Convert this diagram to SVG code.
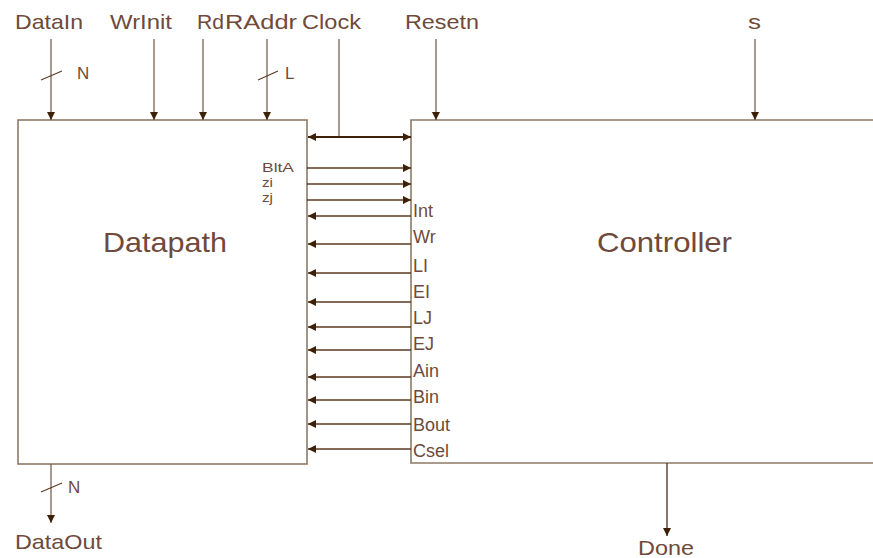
<svg xmlns="http://www.w3.org/2000/svg" width="873" height="558" viewBox="0 0 873 558">
<defs>
<marker id="ah" markerUnits="userSpaceOnUse" markerWidth="9" markerHeight="8" refX="8" refY="4" orient="auto-start-reverse" viewBox="0 0 9 8">
<path d="M0,0 L8,4 L0,8 z" fill="#3e2008"/>
</marker>
<style>
.box{fill:#fff;stroke:#8d7a66;stroke-width:1.6}
.lbl{font-family:"Liberation Sans",Arial,sans-serif;fill:#6f4a3b}
.io{font-size:21px}
.sig{font-size:18px}
.sm{font-size:13.4px}
.big{font-size:28px}
.w{font-size:17px}
.in{stroke:#6e5644;stroke-width:1.2;fill:none;marker-end:url(#ah)}
.s{stroke:#5b3a22;stroke-width:1.4;fill:none;marker-end:url(#ah)}
.sl{stroke:#5b3a22;stroke-width:1.1}
</style>
</defs>

<g id="datapath">
<rect class="box" x="18" y="120" width="289" height="344"/>
<text class="lbl big" x="103" y="252" textLength="124" lengthAdjust="spacingAndGlyphs">Datapath</text>
<text class="lbl sm" x="262" y="172" textLength="32" lengthAdjust="spacingAndGlyphs">BltA</text>
<text class="lbl sm" x="262" y="187" textLength="11" lengthAdjust="spacingAndGlyphs">zi</text>
<text class="lbl sm" x="262" y="202" textLength="11" lengthAdjust="spacingAndGlyphs">zj</text>
</g>

<g id="controller">
<path class="box" d="M880,120 H411 V463 H880"/>
<text class="lbl big" x="597" y="252" textLength="135" lengthAdjust="spacingAndGlyphs">Controller</text>
<text class="lbl sig" x="413" y="217">Int</text>
<text class="lbl sig" x="413" y="243">Wr</text>
<text class="lbl sig" x="413" y="272">LI</text>
<text class="lbl sig" x="413" y="298">EI</text>
<text class="lbl sig" x="413" y="324">LJ</text>
<text class="lbl sig" x="413" y="350">EJ</text>
<text class="lbl sig" x="413" y="377">Ain</text>
<text class="lbl sig" x="413" y="403">Bin</text>
<text class="lbl sig" x="413" y="431">Bout</text>
<text class="lbl sig" x="413" y="457">Csel</text>
</g>

<g id="labels">
<text class="lbl io" x="15" y="29" textLength="68" lengthAdjust="spacingAndGlyphs">DataIn</text>
<text class="lbl io" x="110" y="29" textLength="62" lengthAdjust="spacingAndGlyphs">WrInit</text>
<text class="lbl io" x="197" y="29" textLength="27" lengthAdjust="spacingAndGlyphs">Rd</text>
<text class="lbl io" x="225" y="29" textLength="72" lengthAdjust="spacingAndGlyphs">RAddr</text>
<text class="lbl io" x="302" y="29" textLength="59" lengthAdjust="spacingAndGlyphs">Clock</text>
<text class="lbl io" x="405" y="29" textLength="74" lengthAdjust="spacingAndGlyphs">Resetn</text>
<text class="lbl io" x="748" y="29" textLength="13" lengthAdjust="spacingAndGlyphs">s</text>
<text class="lbl io" x="15" y="549" textLength="87" lengthAdjust="spacingAndGlyphs">DataOut</text>
<text class="lbl io" x="638" y="555" textLength="56" lengthAdjust="spacingAndGlyphs">Done</text>
<text class="lbl w" x="77" y="79">N</text>
<text class="lbl w" x="285" y="79">L</text>
<text class="lbl w" x="68" y="493">N</text>
</g>

<g id="connectors">
<line class="in" x1="51" y1="39" x2="51" y2="120"/>
<line class="in" x1="154" y1="39" x2="154" y2="120"/>
<line class="in" x1="203" y1="39" x2="203" y2="120"/>
<line class="in" x1="267" y1="39" x2="267" y2="120"/>
<line class="in" x1="436" y1="39" x2="436" y2="120"/>
<line class="in" x1="755" y1="39" x2="755" y2="120"/>
<line class="sl" x1="41" y1="80" x2="62" y2="71"/>
<line class="sl" x1="258" y1="80" x2="278" y2="71"/>
<line x1="339" y1="39" x2="339" y2="137" stroke="#6e5644" stroke-width="1.2"/>
<line x1="308" y1="137" x2="411" y2="137" stroke="#3e2008" stroke-width="2" marker-start="url(#ah)" marker-end="url(#ah)"/>
<line class="s" x1="307" y1="168" x2="411" y2="168"/>
<line class="s" x1="307" y1="184" x2="411" y2="184"/>
<line class="s" x1="307" y1="200" x2="411" y2="200"/>
<line class="s" x1="411" y1="216" x2="308" y2="216"/>
<line class="s" x1="411" y1="244" x2="308" y2="244"/>
<line class="s" x1="411" y1="273" x2="308" y2="273"/>
<line class="s" x1="411" y1="302" x2="308" y2="302"/>
<line class="s" x1="411" y1="327" x2="308" y2="327"/>
<line class="s" x1="411" y1="350" x2="308" y2="350"/>
<line class="s" x1="411" y1="377" x2="308" y2="377"/>
<line class="s" x1="411" y1="400" x2="308" y2="400"/>
<line class="s" x1="411" y1="424" x2="308" y2="424"/>
<line class="s" x1="411" y1="449" x2="308" y2="449"/>
<line class="in" x1="51" y1="464" x2="51" y2="523"/>
<line class="sl" x1="41" y1="492" x2="62" y2="483"/>
<line class="s" x1="667" y1="463" x2="667" y2="536"/>
</g>
</svg>
